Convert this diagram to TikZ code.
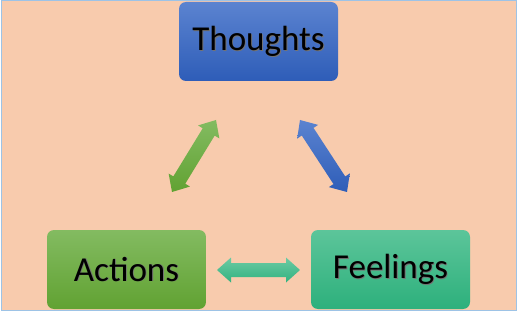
\documentclass[tikz,border=0pt]{standalone}
\usepackage{fontspec}
\setmainfont{Carlito}
\usetikzlibrary{calc}
\definecolor{peach}{HTML}{F8CBAD}
\definecolor{frame}{HTML}{9DC3E6}
\definecolor{bluetop}{HTML}{5B83D0}
\definecolor{bluebot}{HTML}{2E5DB8}
\definecolor{greentop}{HTML}{83BB61}
\definecolor{greenbot}{HTML}{61A232}
\definecolor{tealtop}{HTML}{5CC59A}
\definecolor{tealbot}{HTML}{2DB07C}
\newcommand\shtext[1]{\rlap{\kern0.9pt\raisebox{-0.9pt}{\color{black!55}#1}}#1}
\tikzset{
  box/.style={rounded corners=7pt, minimum width=159pt, minimum height=79pt,
    inner sep=0pt, font=\fontsize{35}{40}\selectfont, text=black},
  bluebox/.style={box, top color=bluetop, bottom color=bluebot},
  greenbox/.style={box, top color=greentop, bottom color=greenbot},
  tealbox/.style={box, top color=tealtop, bottom color=tealbot},
}
\newcommand\dblarr[3]{%
  \coordinate (#1h) at ($(#1)!14pt!(#2)$);
  \coordinate (#2h) at ($(#2)!14pt!(#1)$);
  \path[#3] (#1) -- ($(#1h)!12.5pt!90:(#2)$) -- ($(#1h)!7pt!90:(#2)$)
    -- ($(#2h)!7pt!-90:(#1)$) -- ($(#2h)!12.5pt!-90:(#1)$) -- (#2)
    -- ($(#2h)!12.5pt!90:(#1)$) -- ($(#2h)!7pt!90:(#1)$)
    -- ($(#1h)!7pt!-90:(#2)$) -- ($(#1h)!12.5pt!-90:(#2)$) -- cycle;}
\begin{document}
\begin{tikzpicture}[x=1pt,y=1pt]
\useasboundingbox (0,0) rectangle (517,311);
\draw[frame, fill=peach, line width=1pt] (1,1) rectangle (516,310);
\node[bluebox] (thoughts) at (258.5,269.5) {\shtext{Thoughts}};
\node[greenbox] (actions) at (126.5,41.5) {\shtext{Actions}};
\node[tealbox] (feelings) at (390.5,41.5) {\shtext{Feelings}};
\coordinate (ga) at (172,119);
\coordinate (gb) at (216,191);
\coordinate (ba) at (300,191);
\coordinate (bb) at (347,119);
\coordinate (ta) at (217,41);
\coordinate (tb) at (300,41);
\dblarr{ga}{gb}{top color=greentop, bottom color=greenbot}
\dblarr{ba}{bb}{top color=bluetop, bottom color=bluebot}
\dblarr{ta}{tb}{top color=tealtop!90, bottom color=tealbot!90!tealtop}
\end{tikzpicture}
\end{document}
